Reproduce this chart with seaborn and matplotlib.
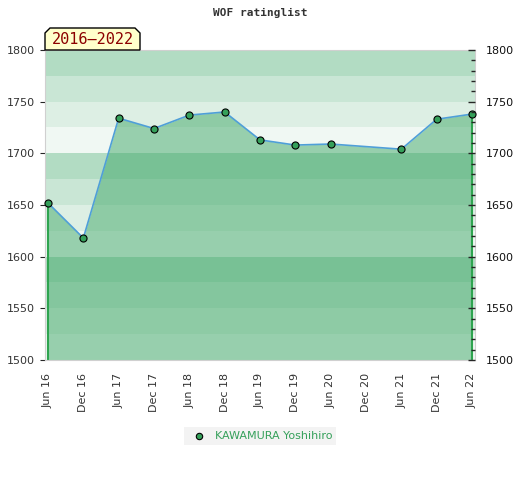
import numpy as np
import pandas as pd
import matplotlib
matplotlib.use("Agg")
import matplotlib.pyplot as plt
from matplotlib.patches import Polygon
from matplotlib.ticker import MultipleLocator
import seaborn as sns

# данные
periods = ["Jun 16", "Dec 16", "Jun 17", "Dec 17", "Jun 18", "Dec 18", "Jun 19",
           "Dec 19", "Jun 20", "Dec 20", "Jun 21", "Dec 21", "Jun 22"]
ratings = [1652, 1618, 1734, 1724, 1737, 1740, 1713, 1708, 1709, np.nan, 1704, 1733, 1738]
player = "KAWAMURA Yoshihiro"
title = "WOF ratinglist"
range_label = "2016\u20132022"
y_min, y_max = 1500, 1800

df = pd.DataFrame({"pos": np.arange(len(periods)), "period": periods, "rating": ratings})
pts = df.dropna()

sns.set_style("white")
fig = plt.figure(figsize=(5.2, 4.8), dpi=100)
ax = fig.add_axes([45 / 520, 1 - 360 / 480, 430 / 520, 310 / 480])

# фоновые полосы по 25 пунктов
band_colors = ["#f0f8f3", "#ddefe4", "#c9e6d5", "#b2dcc3"]
for i, lo in enumerate(range(y_min, y_max, 25)):
    ax.axhspan(lo, lo + 25, color=band_colors[i % 4], lw=0, zorder=0)

# заливка под линией
ax.fill_between(pts["pos"], pts["rating"], y_min, color="#40a868", alpha=0.5, lw=0, zorder=1)
ax.vlines([pts["pos"].iloc[0], pts["pos"].iloc[-1]], y_min,
          [pts["rating"].iloc[0], pts["rating"].iloc[-1]], color="#2ea44f", lw=1.5, zorder=2)

sns.lineplot(data=pts, x="pos", y="rating", color="#4f9fd8", lw=1.2, ax=ax, zorder=3)
sns.scatterplot(data=pts, x="pos", y="rating", color="#35a05a", edgecolor="black",
                linewidth=0.8, s=26, ax=ax, zorder=4, label=player, clip_on=False)

ax.set_xlim(-0.085, len(periods) - 1 + 0.085)
ax.set_ylim(y_min, y_max)
ax.set_xticks(df["pos"])
ax.set_xticklabels(periods, rotation=90, fontsize=8, color="#333333")
ax.set_xlabel("")
ax.set_ylabel("")
ax.yaxis.set_major_locator(MultipleLocator(50))
ax.tick_params(axis="y", left=False, labelsize=8, labelcolor="#333333", pad=4)
ax.tick_params(axis="x", length=0, pad=9)
for s in ax.spines.values():
    s.set_color("#d0d0d0")

# правая ось
ax2 = ax.twinx()
ax2.set_ylim(y_min, y_max)
ax2.yaxis.set_major_locator(MultipleLocator(50))
ax2.yaxis.set_minor_locator(MultipleLocator(10))
ax2.tick_params(axis="y", which="major", direction="in", length=5, width=1,
                labelsize=8, labelcolor="#111111", pad=8)
ax2.tick_params(axis="y", which="minor", direction="in", length=3, width=1)
for s in ax2.spines.values():
    s.set_visible(False)

# легенда
ax.legend_.remove()
handles, labels = ax.get_legend_handles_labels()
leg = fig.legend(handles, labels, loc="center", bbox_to_anchor=(0.5, 1 - 436 / 480),
                 frameon=True, facecolor="#f0f0f0", edgecolor="none", fancybox=False,
                 fontsize=8, handletextpad=0.4, borderpad=0.35, markerscale=0.9)
for t in leg.get_texts():
    t.set_color("#35a05a")

fig.text(0.5, 1 - 13 / 480, title, ha="center", va="center", fontsize=8,
         family="DejaVu Sans Mono", weight="bold", color="#333333")

# метка периода со срезанными углами
x0, x1, yb, yt, c = 45, 140, 50, 28, 5
corners = [(x0, yb), (x0, yt + c), (x0 + c, yt), (x1 - c, yt), (x1, yt + c), (x1, yb)]
poly = Polygon([(px / 520, 1 - py / 480) for px, py in corners], closed=True,
               transform=fig.transFigure, facecolor="#ffffcc", edgecolor="black", lw=1, zorder=10)
fig.patches.append(poly)
fig.text((x0 + x1) / 2 / 520, 1 - 40 / 480, range_label, ha="center", va="center",
         fontsize=11, family="DejaVu Sans Mono", color="#8b0000", zorder=11)

fig.savefig("out.png", dpi=100)
